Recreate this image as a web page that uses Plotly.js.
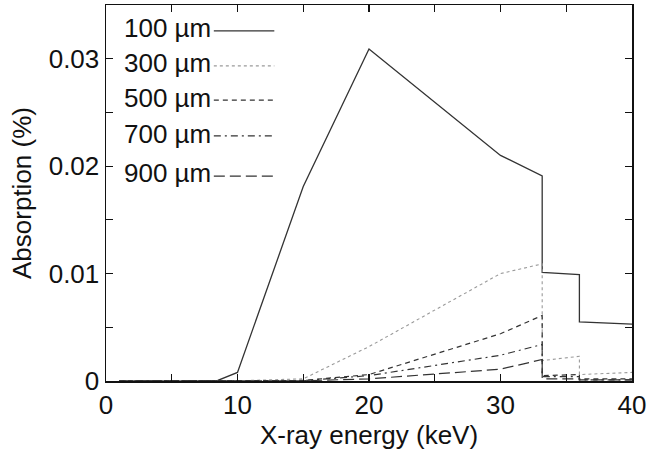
<!DOCTYPE html>
<html>
<head>
<meta charset="utf-8">
<script src="https://cdn.plot.ly/plotly-3.0.1.min.js"></script>
<style>
  html, body { margin: 0; padding: 0; background: #fff; }
  #chart { width: 647px; height: 458px; }
</style>
</head>
<body>
<div id="chart"></div>
<script>
// X-ray energies (keV); the K-edge at 33.17 keV and the step at 36 keV are listed twice
const energy = [1, 5, 8.5, 10, 15, 20, 30, 33.17, 33.17, 36, 36, 40];

// Absorption (%) for each sensor thickness
const abs100 = [0, 0, 0.00005, 0.0008, 0.0181, 0.0309, 0.0210, 0.0191, 0.0101, 0.0099, 0.0055, 0.0053];
const abs300 = [0, 0, 0, 0.00002, 0.0002, 0.0032, 0.0100, 0.0109, 0.0019, 0.0023, 0.0006, 0.0008];
const abs500 = [0, 0, 0, 0, 0.00005, 0.0006, 0.0044, 0.0061, 0.0005, 0.0006, 0.0002, 0.0002];
const abs700 = [0, 0, 0, 0, 0.00003, 0.0005, 0.0024, 0.0034, 0.0004, 0.0004, 0.0001, 0.0001];
const abs900 = [0, 0, 0, 0, 0.00002, 0.0002, 0.0011, 0.0020, 0.0002, 0.0002, 0.0001, 0.0001];

const seriesNames = ['100 µm', '300 µm', '500 µm', '700 µm', '900 µm'];
const seriesData = [abs100, abs300, abs500, abs700, abs900];
const seriesStyle = [
  { color: '#333333', width: 1.3, dash: 'solid' },
  { color: '#9a9a9a', width: 1.1, dash: 'dot' },
  { color: '#333333', width: 1.2, dash: '5px,4px' },
  { color: '#333333', width: 1.2, dash: '7px,4px,2px,4px' },
  { color: '#333333', width: 1.2, dash: '11px,5px' }
];

// Tick labels
const xTickVals = [0, 5, 10, 15, 20, 25, 30, 35, 40];
const xTickText = ['0', '', '10', '', '20', '', '30', '', '40'];
const yTickVals = [0, 0.005, 0.01, 0.015, 0.02, 0.025, 0.03];
const yTickText = ['0', '', '0.01', '', '0.02', '', '0.03'];

const traces = seriesData.map((y, i) => ({
  x: energy,
  y: y,
  type: 'scatter',
  mode: 'lines',
  name: seriesNames[i],
  line: seriesStyle[i],
  showlegend: false
}));

const labelFont = { family: 'Liberation Sans, Arial, sans-serif', size: 26, color: '#111' };

// Key in the upper-left corner: label text followed by a line sample
const keyTextY = [0.939, 0.846, 0.753, 0.657, 0.553];
const keyLineY = [0.931, 0.838, 0.747, 0.652, 0.545];
const annotations = [];
const shapes = [];
seriesNames.forEach((name, i) => {
  annotations.push({
    xref: 'paper', yref: 'paper',
    x: 0.203, y: keyTextY[i],
    xanchor: 'right', yanchor: 'middle',
    text: name, showarrow: false,
    font: labelFont
  });
  shapes.push({
    type: 'line', xref: 'paper', yref: 'paper',
    x0: 0.205, x1: 0.320, y0: keyLineY[i], y1: keyLineY[i],
    line: seriesStyle[i]
  });
});

const layout = {
  width: 647,
  height: 458,
  margin: { l: 106, r: 15, t: 5, b: 77 },
  paper_bgcolor: '#fff',
  plot_bgcolor: '#fff',
  showlegend: false,
  xaxis: {
    range: [0, 40],
    tickvals: xTickVals,
    ticktext: xTickText,
    ticks: 'inside',
    ticklen: 7,
    tickwidth: 1.2,
    tickcolor: '#111',
    showline: true,
    linecolor: '#111',
    linewidth: 1.5,
    mirror: 'ticks',
    showgrid: false,
    zeroline: false,
    automargin: false,
    tickfont: labelFont,
    title: { text: 'X-ray energy (keV)', font: labelFont, standoff: 5 }
  },
  yaxis: {
    range: [0, 0.035],
    tickvals: yTickVals,
    ticktext: yTickText,
    ticks: 'inside',
    ticklen: 7,
    tickwidth: 1.2,
    tickcolor: '#111',
    showline: true,
    linecolor: '#111',
    linewidth: 1.5,
    mirror: 'ticks',
    showgrid: false,
    zeroline: false,
    automargin: false,
    tickfont: labelFont,
    title: { text: 'Absorption (%)', font: labelFont, standoff: 9 }
  },
  annotations: annotations,
  shapes: shapes
};

Plotly.newPlot('chart', traces, layout, { displayModeBar: false, staticPlot: true });
</script>
</body>
</html>
